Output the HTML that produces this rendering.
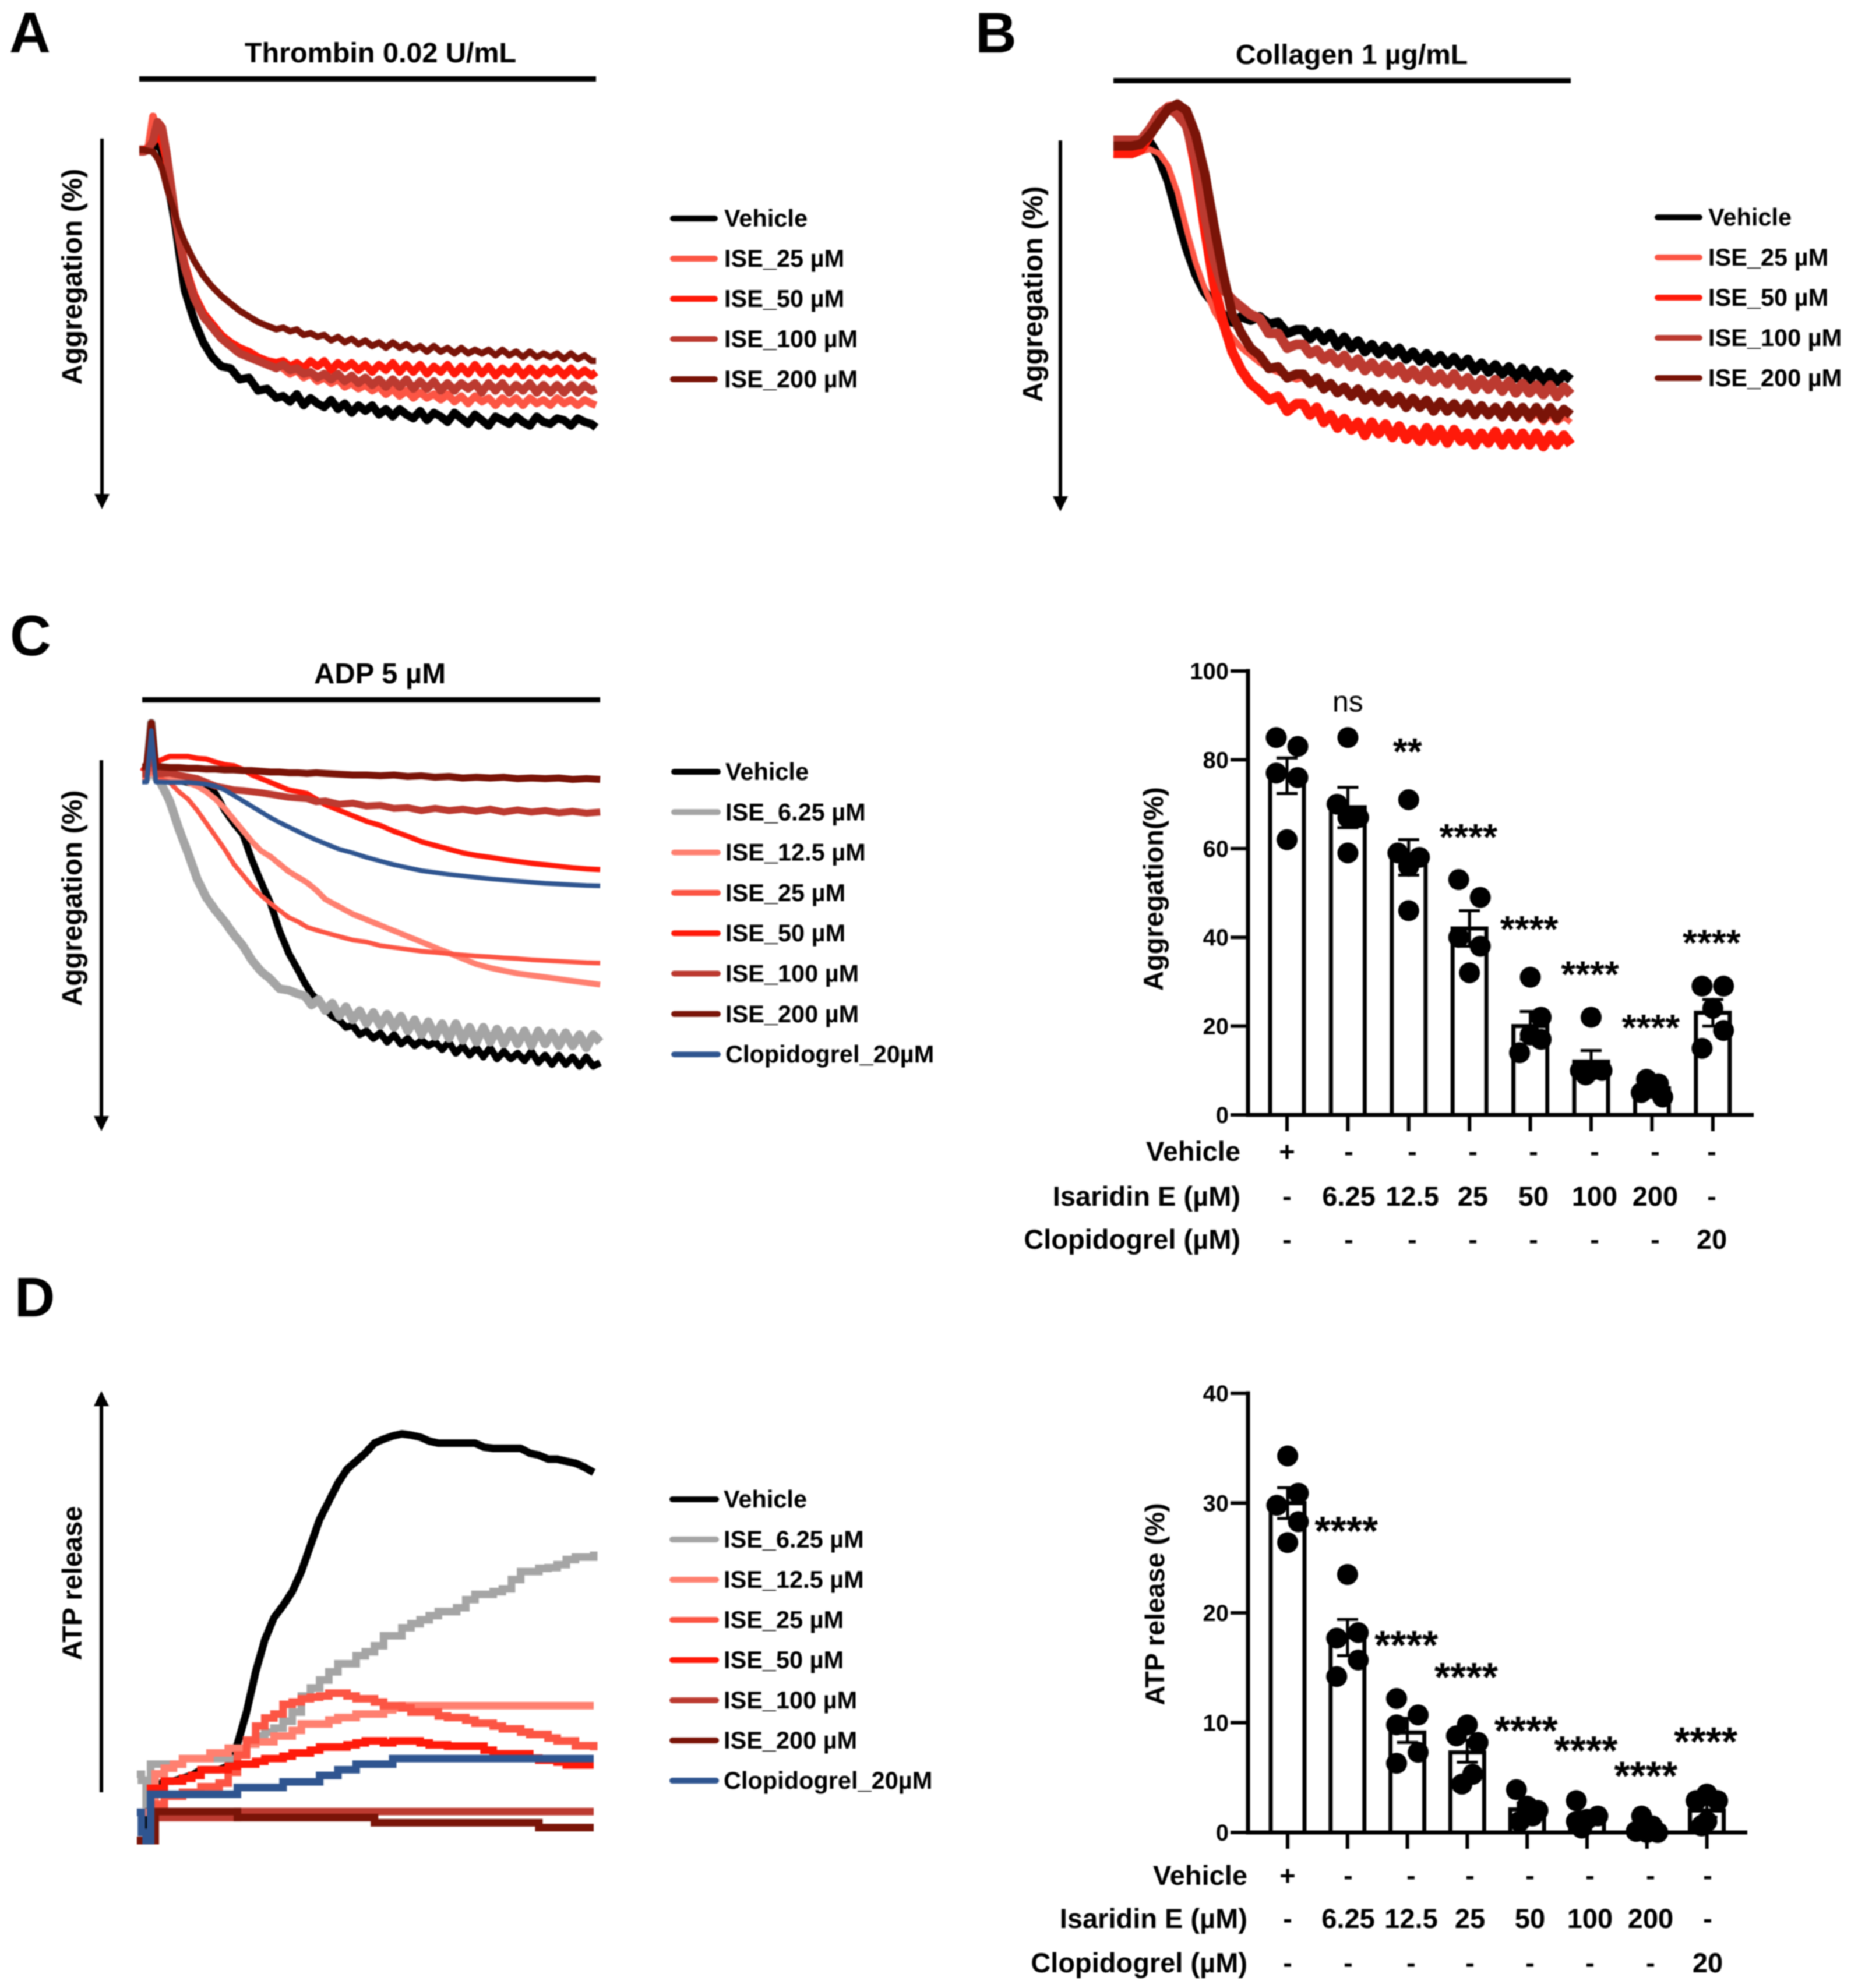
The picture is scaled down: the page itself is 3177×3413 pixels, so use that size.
<!DOCTYPE html>
<html lang="en">
<head>
<meta charset="utf-8">
<title>Isaridin E platelet aggregation and ATP release</title>
<style>
html,body{margin:0;padding:0;background:#fff;}
#figure{display:block;filter:blur(1px);font-family:"Liberation Sans",Arial,sans-serif;font-weight:bold;fill:#000;}
</style>
</head>
<body>
<svg id="figure" xmlns="http://www.w3.org/2000/svg" width="3177" height="3413" viewBox="0 0 3177 3413">
  <rect x="0" y="0" width="3177" height="3413" fill="#fff"/>
  <text x="16" y="90" font-size="98">A</text>
  <text x="1674" y="90" font-size="98">B</text>
  <text x="17" y="1125" font-size="98">C</text>
  <text x="25" y="2260" font-size="96">D</text>

  <text x="653" y="107" font-size="48.5" text-anchor="middle">Thrombin 0.02 U/mL</text>
  <rect x="239" y="131" width="784" height="9"/>
  <text x="2320" y="110" font-size="48" text-anchor="middle">Collagen 1 µg/mL</text>
  <rect x="1911" y="134" width="785" height="9"/>
  <text x="652" y="1173" font-size="49" text-anchor="middle">ADP 5 µM</text>
  <rect x="244" y="1197" width="786" height="9"/>

  <g><rect x="172" y="238" width="6" height="616"/><polygon points="162,848 188,848 175,874"/></g>
  <g><rect x="1817" y="241" width="6" height="616"/><polygon points="1807,852 1833,852 1820,878"/></g>
  <g><rect x="171" y="1305" width="6" height="616"/><polygon points="161,1916 187,1916 174,1942"/></g>
  <g><rect x="171" y="2408" width="6" height="669"/><polygon points="161,2414 187,2414 174,2388"/></g>

  <text transform="translate(140 475) rotate(-90)" font-size="48" text-anchor="middle">Aggregation (%)</text>
  <text transform="translate(1789 505) rotate(-90)" font-size="48" text-anchor="middle">Aggregation (%)</text>
  <text transform="translate(140 1542) rotate(-90)" font-size="48" text-anchor="middle">Aggregation (%)</text>
  <text transform="translate(140 2718) rotate(-90)" font-size="47" text-anchor="middle">ATP release</text>
  <text transform="translate(1996 1526) rotate(-90)" font-size="47" text-anchor="middle">Aggregation(%)</text>
  <text transform="translate(1998 2754) rotate(-90)" font-size="46.5" text-anchor="middle">ATP release (%)</text>
</svg>

<script>
// ---------- Trace data ----------
const seriesNamesAB = ['Vehicle','ISE_25 µM','ISE_50 µM','ISE_100 µM','ISE_200 µM'];
const seriesNamesCD = ['Vehicle','ISE_6.25 µM','ISE_12.5 µM','ISE_25 µM','ISE_50 µM','ISE_100 µM','ISE_200 µM','Clopidogrel_20µM'];

// Panel A: thrombin
const timeA = [0,1,2,3,4,5,6,7,8,9,10,12,14,16,18,20,22,24,26,28,30,
  31.5,33,34.5,36,37.5,39,40.5,42,43.5,45,46.5,48,49.5,51,52.5,54,55.5,57,58.5,60,61.5,63,64.5,66,67.5,69,70.5,72,73.5,75,76.5,78,79.5,81,82.5,84,85.5,87,88.5,90,91.5,93,94.5,96,97.5,99,100];
const aVehicle = [3,3,3,2.5,1,3.5,10,17,24,33,41,49,55,59,61.5,62,65,64.5,68,67.5,70,
  69.5,71,69,72,70,71.5,72.5,70.5,73,71.5,74,72,73.5,72,74.5,73,75,73,74.5,75.5,73.5,76,74,75,76.5,74,75.5,77,74.5,76,77.5,75,76,77,75,76.5,77.5,75,76.5,77,75.5,76,77.5,75.5,76.5,77,78];
const aIse25 = [3,3,2.5,-6,-1,1,6,14,22,28,34,42,47,51,54,56,57.5,58,59,60,61,
  62,63.5,62.5,64.5,63.5,65.5,64.5,66,65,67,66,67.5,66.5,68,67,69,67.5,69.5,68,70,68.5,70,69,70.5,69,71,69.5,71.5,69.5,71,70,72,70,71.5,70,72,70,71.5,70.5,72,70,71.5,70.5,72,70.5,71.5,72];
const aIse50 = [3,3,2.5,1,-1,1,6,14,22,28,34,42,47,50,53,55,56.5,57.5,59,60,60.5,
  60,61.5,60.5,62,60,61.5,60,62.5,60.5,62,60.5,62.5,61,63,61,62.5,60.5,63,61,63,61,63.5,61.5,63,61,63.5,61.5,63.5,61,63.5,61.5,64,62,63.5,61.5,64,62,64,62,63.5,62,64,62,64,62.5,64,63];
const aIse100 = [3.5,3.5,3,0.5,-4.5,-3,4,13,22,29,35,43,48,51,54,56,58,59,60,61,62,
  61,62.5,62,63.5,63,64.5,63.5,65,63.5,65.5,64,66,64.5,66.5,65,67,65,67,65,67.5,65.5,67.5,65.5,68,66,68,66,67.5,66,68.5,66,68,66,68.5,66.5,68,66,68.5,66.5,68.5,66.5,68.5,66.5,68.5,66.5,68,67.5];
const aIse200 = [3,3,3.3,3.5,5.3,8,13,17,21,25,28,33,37,40,42.5,44.5,46.5,48,49.5,50.5,51.5,
  51,52,51.5,53,52.5,53.5,53,54.5,53.5,55,54,55.5,54.5,56,55,56.5,55,56.5,55.5,57,56,57.5,56,57.5,56.5,58,56.5,58,57,58,57,58.5,57,58.5,57.5,59,57.5,59,58,59,58,59.5,58,59.5,58.5,60,60];

// Panel B: collagen
const timeB = [0,2,4,6,8,10,12,14,16,18,20,22,24,26,28,30,32,34,36,38,40,
  41.5,43,44.5,46,47.5,49,50.5,52,53.5,55,56.5,58,59.5,61,62.5,64,65.5,67,68.5,70,71.5,73,74.5,76,77.5,79,80.5,82,83.5,85,86.5,88,89.5,91,92.5,94,95.5,97,98.5,100];
const bVehicle = [1,1,1,1,.6,4.7,11,20,29,36,41,44,47,49,47.5,48.5,47.5,49.5,49,52,51,
  51,53.5,51.5,54,52,55.5,53,56,54,57,55,57.5,55.5,58,56,59,57,59.5,57.5,60,58,60.5,58.5,61,59,62,60,62.5,60.5,63,61,64,61.5,64.5,62,65,62.5,65,63,64.5];
const bIse25 = [3.8,4,4,3,2.4,3.5,7,14,24,33,40,46,50,53,56,58,60,61.5,62.5,63.5,64.5,
  64,66,65,67,66,68,67,69,68,69.5,68.5,70.5,69,71,69.5,71.5,70,72,70.5,72.5,71,73,71,73.5,71.5,74,72,74,72.5,75,73,75,73,75.5,73.5,76,74,76,74.5,76];
const bIse50 = [3.5,3.5,3.5,2.5,-1.5,-6,-9,-9.3,-5,7.4,24,39,49,57,62,65.5,67.5,70,69,73,71,
  71,74,72,76,74,77.5,75,78,76,79.5,76,79,76.5,80,77,80.5,78,81,77.5,81,78,81.5,78,81,79,82,79,81.5,78.5,82,79,82,79,82,79,82.5,79.5,82,79.5,82];
const bIse100 = [0,0,0,0,-3,-7,-8.9,-7,-4,5,20,32,40,43,45,47,48,52,52,56,55,
  55,57.5,56.5,59,57.5,60,58,61,59,62,60,62.5,60.5,63,61,64,62,64.5,62,65,63,65.5,63,66,64,67,64.5,67,64.5,67.5,65,68,65.5,68,66,68.5,66,69,66.5,68.5];
const bIse200 = [1.5,1.5,1.5,1,-1.5,-5,-8.5,-9.8,-8,-1.5,9,23,36,47,52,56,58,61.5,61,64,63,
  63,65.5,64,67,65.5,68,66.5,69,67,70,68,70.5,68.5,71,69,72,69.5,72,70,73,70.5,73,71,73.5,71,74,71.5,74,72,74.5,71.5,74.5,72,74.5,72,75,72,75,72.5,74];

// Panel C: ADP
const timeCDense = [0,1,2,3,4,6,8,10,12,14,16,18,20,22,24,26,28,30,32,34,
  35.5,37,38.5,40,41.5,43,44.5,46,47.5,49,50.5,52,53.5,55,56.5,58,59.5,61,62.5,64,65.5,67,68.5,70,71.5,73,74.5,76,77.5,79,80.5,82,83.5,85,86.5,88,89.5,91,92.5,94,95.5,97,98.5,100];
const timeC = [0,1,2,3,4,6,8,10,12,14,16,18,20,22,24,26,28,30,32,34,36,38,40,43,46,49,52,55,58,61,64,67,70,73,76,79,82,85,88,91,94,97,100];
const cVehicle = [4,4,-10,4,4.5,5,5.5,6,6.5,7,9,13.5,17,20,27,33,38.5,46,52,56.5,
  60,63,65,67,69,70,72,71.5,74,73,75,73.5,76,74,76.5,75,77,75.5,77,76,78,76,79,77,79.5,77.5,80,77.5,80.5,78.5,80.5,79,81,78.5,81.5,79.5,82,79.5,82,80,82.5,80,82.5,81.5];
const cIse625 = [4.7,4.7,-10,4.7,6,11,18.5,25,32,37,40.5,43.5,47,50,54,57,59,61.6,62,63,
  63.5,66,64.5,67.5,65.5,69,66.5,70,67.5,71,68,71.5,68.5,72,69,73,70,74,70.5,74.5,71,75,71,75.5,72,76,72,76,72.5,76.5,73,76.5,73,77,73,76.5,73.5,77,73.5,77,74,77.5,74,76];
const cIse125 = [4.5,4.5,3,4.5,5,5,5,6,7,8.5,10.5,13,16,19,22,24.5,26,28,30,31.5,33,35,37.5,39.5,41.5,43,44.5,46,47.5,49,50.5,52,53.5,55,56,56.8,57.5,58,58.5,59,59.5,60,60.5];
const cIse25 = [4.2,4.2,1,4.2,5,6,8.5,10.5,13.5,17,20.5,24,28,31,34,36.5,38.6,40.5,42.4,43.5,45,45.8,46.5,47.5,48.5,49,50,50.5,51,51.5,51.8,52.2,52.5,52.8,53,53.3,53.5,53.8,54,54.2,54.4,54.6,54.7];
const cIse50 = [3,1,1,1,0,-1,-1,-1,-.5,-.3,.5,1.2,1.5,2.5,4,5,6,7,8,8.5,9,10.5,12,13.5,15,16.5,17.6,19.2,20.5,22,23,24,25,25.7,26.2,26.8,27.3,27.8,28.2,28.6,29,29.3,29.5];
const cIse100 = [3.7,3.7,-9,3.7,3.7,3.5,4,4.5,5,6,7,7.5,8,8.2,8.5,8.8,9.2,9.6,10,10.2,10.4,11.2,11,11.9,11.6,12.4,12.2,13,12.8,13.6,13,13.6,13.2,13.8,13.2,14,13.4,14,13.6,14.2,13.8,14.3,14];
const cIse200 = [1.8,1.8,-10,1.8,1.8,2,2,2.2,2.2,2.4,2.4,2.6,2.6,2.8,2.8,3,3.2,3.2,3.4,3.4,3.6,3.4,3.6,3.8,4,4,4.2,4,4.4,4.2,4.6,4.4,4.8,4.6,4.8,4.6,5,4.8,5,4.8,5.2,5,5.2];
const cClopidogrel = [5.9,5.9,-8,5.9,5.9,6,6,6,6.2,6.5,7,8,9.5,11,12.5,14,15.5,16.8,18,19.2,20.4,21.5,22.5,24,25,26.2,27.2,28.2,29,29.8,30.3,30.8,31.2,31.6,32,32.3,32.6,32.9,33.2,33.4,33.6,33.8,33.9];

// Panel D: ATP release (stepped)
const timeD = [0,1,2,3,4,6,8,10,12,14,16,18,20,22,24,26,28,30,32,34,36,38,40,42,44,46,48,50,52,54,56,58,60,62,64,66,68,70,72,74,76,78,80,82,84,86,88,90,92,94,96,98,100];
const dVehicle = [-12,-12,-12,1,1,2.8,2.8,3.5,4.2,5.6,5.6,5.6,6.5,12,20,30,38,43.5,46.5,50,55,61.5,68,72.5,77,80.5,82.5,84.5,87,88,88.8,89.3,89,88.5,87.5,87,87,87,87,87,86,85.7,85.7,85.7,85.7,84.5,84,83,83,82.5,82,81,79.7];
const dIse625 = [4.5,3,-3,7,7,7,7,8.4,8.4,8.4,8.4,8.4,8.4,10,12,14,15,16,17.7,20,24,26,28,30,32,32,34,35,36.5,39,39,41,42,43,44,45,45,46,48,49.3,49.3,50,50.7,53,55,55,55.8,56,56.7,58,58.6,58.6,60];
const dIse125 = [-5,-5,-5,-5,4.6,6,7,8.4,8.4,8.4,9.8,9.8,11,11,12,12.6,12.6,14,14,15.4,17,17,17,18,18.6,18.6,19.5,19.5,19.5,20.5,21,21.6,21.6,21.6,21.6,21.6,21.6,21.6,21.6,21.6,21.6,21.6,21.6,21.6,21.6,21.6,21.6,21.6,21.6,21.6,21.6,21.6,21.6];
const dIse25 = [-12,-12,-12,-12,-3,-1,-1,0,0,1.4,1.4,2.3,5,9.3,13,16.5,18.5,19.5,21.9,22.5,23.3,23.7,24,24.7,24.7,24,23.3,23.3,22.5,21.6,21.6,21,20,20,20,19,18.6,18.6,18,17.2,17.2,16.5,15.8,15.8,15,14.4,14.4,13.5,12.8,12.8,11.6,11.6,10.5];
const dIse50 = [-12,-12,-12,1,1,2.8,2.8,3.5,4.2,5.6,5.6,5.6,6.5,7,7,7.7,8.4,8.4,9,9.8,9.8,10.5,11.3,11.3,11.3,11.8,12.3,12.8,12.8,12.3,12.8,12.8,12.8,12.3,11.8,11.8,11.5,11.5,11.5,11.5,10.5,9.6,9.6,9.6,9.6,8.5,8,8,7.5,6.8,6.8,6.8,6.8];
const dIse100 = [-12,-12,-12,-12,-6.3,-6.3,-6.3,-6.3,-6.3,-6.3,-6.3,-6.3,-6.3,-4.8,-4.8,-4.8,-4.8,-4.8,-4.8,-4.8,-4.8,-4.8,-4.8,-4.8,-4.8,-4.8,-4.8,-4.8,-4.8,-4.8,-4.8,-4.8,-4.8,-4.8,-4.8,-4.8,-4.8,-4.8,-4.8,-4.8,-4.8,-4.8,-4.8,-4.8,-4.8,-4.8,-4.8,-4.8,-4.8,-4.8,-4.8,-4.8,-4.8];
const dIse200 = [-12,-12,-12,-12,-4.8,-4.8,-4.8,-4.8,-4.8,-4.8,-4.8,-4.8,-4.8,-6.3,-6.3,-6.3,-6.3,-6.3,-6.3,-6.3,-6.3,-6.3,-6.3,-6.3,-6.3,-6.3,-6.3,-6.3,-7.6,-7.6,-7.6,-7.6,-7.6,-7.6,-7.6,-7.6,-7.6,-7.6,-7.6,-7.6,-7.6,-7.6,-7.6,-7.6,-7.6,-7.6,-8.8,-8.8,-8.8,-8.8,-8.8,-8.8,-8.8];
const dClopidogrel = [-5,-10,-12,-.5,-.5,-.5,-.5,-.5,-.5,-.5,-.5,-.5,-.5,1.2,1.2,1.2,1.2,1.2,2.6,2.6,2.6,2.6,4.2,4.2,5.6,5.6,7,7,7,7,8.4,8.4,8.4,8.4,8.4,8.4,8.4,8.4,8.4,8.4,8.4,8.4,8.4,8.4,8.4,8.4,8.4,8.4,8.4,8.4,8.4,8.4,8.4];

// ---------- Bar chart data ----------
const aggregationTicks = [0,20,40,60,80,100];
const aggregationMeans = [76.5,69.3,58,42,20,12,6,23];
const aggregationErrHigh = [80.4,73.8,62,46,23.3,14.5,7,26];
const aggregationErrLow = [72.4,64.7,54,38,17,9,5,20];
const aggregationPoints = [[85,83,77,76,62],[85,70,67,67,59],[71,59,58,56,46],[53,49,40,38,32],[31,22,18,17,14],[22,10,10,10,9],[8,7,5,6,4],[29,29,24,19,15]];
const aggregationSlots = [[-1,1,-1,1,0],[0,-1,0,1,0],[0,-1,1,0,0],[-1,1,-1,1,0],[0,1,0,1,-1],[0,-1,0,1,-.5],[-.5,.6,-1,0,1],[-1,1,0,1,-1]];
const aggregationSigLabels = ['','ns','**','****','****','****','****','****'];
const aggregationSigLevels = [0,90.6,83,63.7,43,32.8,20.8,39.9];

const atpTicks = [0,10,20,30,40];
const atpMeans = [30,17.8,9.1,7.3,2.1,1.4,.5,2];
const atpErrHigh = [31.4,19.4,10.4,8.4,2.7,1.9,.9,2.7];
const atpErrLow = [28.6,16.1,8.2,6.4,1.6,.9,.2,1.4];
const atpPoints = [[34.3,30.9,29.8,28.3,26.4],[23.5,18.2,17.7,15.7,14.2],[12.2,10.7,9.8,7.3,6.3],[9.8,8.8,8.2,5.3,4.4],[3.9,2.4,2,1.5,1],[2.9,1.5,1.2,1,.4],[1.5,.6,.1,0,0],[3.5,2.9,2.9,1,.6]];
const atpSlots = [[0,1,-1,1,0],[0,1,-1,1,-1],[-1,1,-1,1,-1],[0,-1,1,.5,-.5],[-1,0,1,.5,-.7],[-1,1,0,-1,-.5],[-.5,.5,-1,0,1],[0,-1,1,0,-.5]];
const atpSigLabels = ['','****','****','****','****','****','****','****'];
const atpSigLevels = [0,28,17.6,14.7,9.8,8,5.7,8.8];

const rowLabels = ['Vehicle','Isaridin E (µM)','Clopidogrel (µM)'];
const rowVehicle = ['+','-','-','-','-','-','-','-'];
const rowIsaridin = ['-','6.25','12.5','25','50','100','200','-'];
const rowClopidogrel = ['-','-','-','-','-','-','-','20'];

// ---------- Drawing helpers ----------
const svgNS = 'http://www.w3.org/2000/svg';
const figure = document.getElementById('figure');
const colorsAB = ['#000000','#fc5544','#ff1a0a','#bc3a30','#7a1408'];
const colorsCD = ['#000000','#a5a5a5','#ff8070','#fc5544','#ff1a0a','#bc3a30','#7a1408','#2f5590'];

function mk(tag, attrs, parent) {
  const node = document.createElementNS(svgNS, tag);
  for (const k in attrs) node.setAttribute(k, attrs[k]);
  parent.appendChild(node);
  return node;
}
function linearScale(d0, d1, r0, r1) {
  return function (v) { return r0 + (v - d0) * (r1 - r0) / (d1 - d0); };
}
function tracePath(grid, values, xOf, yOf, stepped) {
  let d = '';
  for (let i = 0; i < grid.length; i++) {
    const x = xOf(grid[i]).toFixed(1), y = yOf(values[i]).toFixed(1);
    if (i === 0) d += 'M' + x + ' ' + y;
    else if (stepped) d += 'H' + x + 'V' + y;
    else d += 'L' + x + ' ' + y;
  }
  return d;
}
function drawPanel(panelId, grid, seriesList, names, colors, widths, xOf, yOf, stepped) {
  const g = mk('g', {}, figure);
  
  
  seriesList.forEach(function (values, i) {
    const p = mk('path', {d: tracePath(grid, values, xOf, yOf, stepped), fill: 'none', stroke: colors[i], 'stroke-width': widths[i], 'stroke-linejoin': stepped ? 'miter' : 'round'}, g);
    
    
  });
}
function drawLegend(panelId, names, colors, lineX0, lineX1, textX, firstY, stepY) {
  const g = mk('g', {}, figure);
  
  
  names.forEach(function (name, i) {
    const y = firstY + i * stepY;
    const entry = mk('g', {}, g);
    
    
    mk('line', {x1: lineX0, x2: lineX1, y1: y, y2: y, stroke: colors[i], 'stroke-width': 10, 'stroke-linecap': 'round'}, entry);
    const t = mk('text', {x: textX, y: y + 14, 'font-size': 41.5}, entry);
    t.textContent = name;
  });
}
function drawBarChart(id, o) {
  const yOf = linearScale(0, o.maxTick, o.yBase, o.yTop);
  const xOf = function (i) { return o.x0 + i * o.dx; };
  const g = mk('g', {}, figure);
  
  
  o.means.forEach(function (m, i) {
    const c = xOf(i);
    const bar = mk('rect', {x: c - 29, y: yOf(m), width: 58, height: o.yBase - yOf(m), fill: '#fff', stroke: '#000', 'stroke-width': 7}, g);
    
    
  });
  o.means.forEach(function (m, i) {
    const c = xOf(i), hi = yOf(o.errHigh[i]), lo = yOf(o.errLow[i]);
    const err = mk('path', {d: 'M' + (c - 18) + ' ' + hi + 'H' + (c + 18) + 'M' + c + ' ' + hi + 'V' + lo + 'M' + (c - 18) + ' ' + lo + 'H' + (c + 18), fill: 'none', stroke: '#000', 'stroke-width': 5}, g);
    
    
  });
  o.points.forEach(function (set, i) {
    set.forEach(function (v, j) {
      const dot = mk('circle', {cx: xOf(i) + o.slots[i][j] * 18.5, cy: yOf(v), r: 18, fill: '#000'}, g);
      
      
    });
  });
  // axes
  const yAxis = mk('line', {x1: o.xAxis, x2: o.xAxis, y1: o.yTop - 3.5, y2: o.yBase + 3.5, stroke: '#000', 'stroke-width': 7}, g);
  
  
  const xAxis = mk('line', {x1: o.xAxis, x2: o.xEnd, y1: o.yBase, y2: o.yBase, stroke: '#000', 'stroke-width': 7}, g);
  
  
  o.ticks.forEach(function (v) {
    const tick = mk('line', {x1: o.xAxis - 30, x2: o.xAxis, y1: yOf(v), y2: yOf(v), stroke: '#000', 'stroke-width': 6}, g);
    
    
    const lab = mk('text', {x: o.xAxis - 33, y: yOf(v) + 14, 'font-size': 40, 'text-anchor': 'end'}, g);
    
    
    lab.textContent = v;
  });
  o.means.forEach(function (m, i) {
    const tick = mk('line', {x1: xOf(i), x2: xOf(i), y1: o.yBase, y2: o.yBase + 28, stroke: '#000', 'stroke-width': 6}, g);
    
    
  });
  // significance
  o.sigLabels.forEach(function (s, i) {
    if (!s) return;
    const isNs = s === 'ns';
    const size = isNs ? 50 : o.starSize;
    const t = mk('text', {x: xOf(i) - (isNs ? 0 : 2), y: yOf(o.sigLevels[i]) + (isNs ? -2 : size * 0.57 - 6), 'font-size': size, 'text-anchor': 'middle', 'font-weight': isNs ? 'normal' : 'bold'}, g);
    
    
    t.textContent = s;
  });
  // condition table
  const rows = [rowVehicle, rowIsaridin, rowClopidogrel];
  rows.forEach(function (row, r) {
    const lab = mk('text', {x: o.rowLabelX, y: o.rowY[r], 'font-size': 47, 'text-anchor': 'end'}, g);
    
    
    lab.textContent = rowLabels[r];
    row.forEach(function (cell, c) {
      const t = mk('text', {x: o.colX[c], y: o.rowY[r], 'font-size': 47, 'text-anchor': 'middle'}, g);
      
      
      t.textContent = cell;
    });
  });
}

// ---------- Render ----------
const xScaleA = linearScale(0,100,239,1023);
const yScaleA = linearScale(0,100,238,874);
const xScaleB = linearScale(0,100,1911,2696);
const yScaleB = linearScale(0,100,241,878);
const xScaleC = linearScale(0,100,244,1030);
const yScaleC = linearScale(0,100,1305,1942);
const xScaleD = linearScale(0,100,235,1019);
const yScaleD = linearScale(0,100,3077,2388);

drawPanel('a', timeA, [aVehicle,aIse25,aIse50,aIse100,aIse200], seriesNamesAB, colorsAB, [14,13,13,14,11], xScaleA, yScaleA, false);
drawPanel('b', timeB, [bVehicle,bIse25,bIse50,bIse100,bIse200], seriesNamesAB, colorsAB, [16,10,17,17,16], xScaleB, yScaleB, false);
drawPanel('c-noisy', timeCDense, [cVehicle,cIse625], seriesNamesCD.slice(0,2), colorsCD.slice(0,2), [12,15], xScaleC, yScaleC, false);
drawPanel('c', timeC, [cIse125,cIse25,cIse50,cIse100,cIse200,cClopidogrel], seriesNamesCD.slice(2), colorsCD.slice(2), [10,8,9,12,12,8], xScaleC, yScaleC, false);
drawPanel('d-vehicle', timeD, [dVehicle], seriesNamesCD.slice(0,1), colorsCD.slice(0,1), [13], xScaleD, yScaleD, false);
drawPanel('d', timeD, [dIse625,dIse125,dIse25,dIse50,dIse100,dIse200,dClopidogrel], seriesNamesCD.slice(1), colorsCD.slice(1), [13,13,13,13,13,13,13], xScaleD, yScaleD, true);

drawLegend('a', seriesNamesAB, colorsAB, 1155, 1227, 1243, 375, 69);
drawLegend('b', seriesNamesAB, colorsAB, 2845, 2917, 2932, 373, 69);
drawLegend('c', seriesNamesCD, colorsCD, 1157, 1232, 1245, 1325, 69.3);
drawLegend('d', seriesNamesCD, colorsCD, 1154, 1229, 1242, 2574, 69);

drawBarChart('aggregation', {
  means: aggregationMeans, errHigh: aggregationErrHigh, errLow: aggregationErrLow,
  points: aggregationPoints, slots: aggregationSlots, ticks: aggregationTicks,
  sigLabels: aggregationSigLabels, sigLevels: aggregationSigLevels,
  maxTick: 100, yTop: 1152, yBase: 1914, xAxis: 2142, xEnd: 3010, x0: 2209, dx: 104.4, starSize: 64,
  rowLabelX: 2129, rowY: [1993, 2070, 2144], colX: [2209,2315,2424,2528,2632,2737,2841,2938]
});
drawBarChart('atp-release', {
  means: atpMeans, errHigh: atpErrHigh, errLow: atpErrLow,
  points: atpPoints, slots: atpSlots, ticks: atpTicks,
  sigLabels: atpSigLabels, sigLevels: atpSigLevels,
  maxTick: 40, yTop: 2392, yBase: 3146, xAxis: 2142, xEnd: 2999, x0: 2210, dx: 102.8, starSize: 70,
  rowLabelX: 2141, rowY: [3236, 3310, 3386], colX: [2210,2314,2422,2523,2626,2729,2833,2931]
});
</script>
</body>
</html>
